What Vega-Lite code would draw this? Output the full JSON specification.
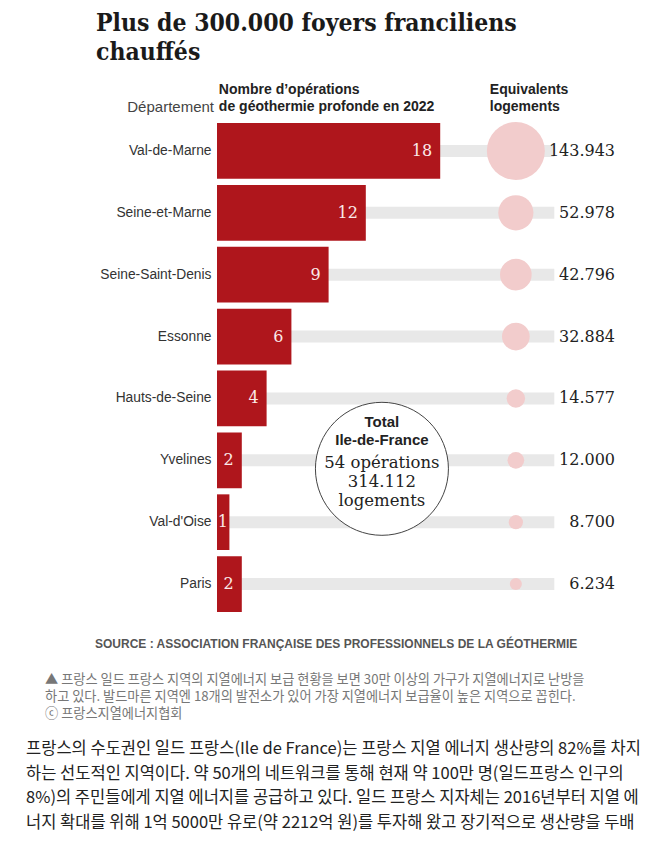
{
  "$schema": "https://vega.github.io/schema/vega-lite/v6.json",
  "width": 436,
  "height": 495,
  "autosize": {"type": "none"},
  "padding": {"left": 217, "top": 120, "right": 0, "bottom": 229},
  "background": "white",
  "config": {
    "view": {"stroke": null},
    "locale": {"number": {"decimal": ",", "thousands": ".", "grouping": [3], "currency": ["", " €"]}}
  },
  "title": {
    "text": ["Plus de 300.000 foyers franciliens", "chauffés"],
    "anchor": "start",
    "frame": "group",
    "dx": -121,
    "offset": 17,
    "font": "'DejaVu Serif Condensed', 'DejaVu Serif'",
    "fontSize": 24.5,
    "fontWeight": "bold",
    "color": "#1a1a1a",
    "lineHeight": 29
  },
  "datasets": {
    "deps": [
      {"dep": "Val-de-Marne", "ops": 18, "logements": 143943},
      {"dep": "Seine-et-Marne", "ops": 12, "logements": 52978},
      {"dep": "Seine-Saint-Denis", "ops": 9, "logements": 42796},
      {"dep": "Essonne", "ops": 6, "logements": 32884},
      {"dep": "Hauts-de-Seine", "ops": 4, "logements": 14577},
      {"dep": "Yvelines", "ops": 2, "logements": 12000},
      {"dep": "Val-d'Oise", "ops": 1, "logements": 8700},
      {"dep": "Paris", "ops": 2, "logements": 6234}
    ],
    "headers": [
      {"h": "Nombre d’opérations\nde géothermie profonde en 2022", "p": 0.15},
      {"h": "Equivalents\nlogements", "p": 22.0}
    ],
    "one": [{"k": 1}]
  },
  "layer": [
    {
      "data": {"name": "deps"},
      "mark": {"type": "bar", "size": 12, "color": "#e8e8e8"},
      "encoding": {
        "y": {"field": "dep", "type": "nominal", "sort": null, "title": null,
              "scale": {"paddingInner": 0.1, "paddingOuter": 0.05},
              "axis": {"domain": false, "ticks": false, "labelPadding": 6, "labelFont": "Liberation Sans", "labelFontSize": 13.8, "labelColor": "#333", "title": null}},
        "x": {"datum": 0, "type": "quantitative", "scale": {"domain": [0, 35.16], "nice": false}, "axis": null},
        "x2": {"datum": 27.2}
      }
    },
    {
      "data": {"name": "deps"},
      "mark": {"type": "bar", "color": "#af161c"},
      "encoding": {
        "y": {"field": "dep", "type": "nominal", "sort": null, "title": null},
        "x": {"field": "ops", "type": "quantitative", "scale": {"domain": [0, 35.16], "nice": false}, "axis": null}
      }
    },
    {
      "data": {"name": "deps"},
      "transform": [{"filter": "datum.ops >= 2"}],
      "mark": {"type": "text", "align": "right", "baseline": "middle", "dx": -8, "font": "DejaVu Serif", "fontSize": 16, "color": "#fbe9e9"},
      "encoding": {
        "y": {"field": "dep", "type": "nominal", "sort": null, "title": null},
        "x": {"field": "ops", "type": "quantitative", "scale": {"domain": [0, 35.16], "nice": false}, "axis": null},
        "text": {"field": "ops", "type": "quantitative"}
      }
    },
    {
      "data": {"name": "deps"},
      "transform": [{"filter": "datum.ops < 2"}],
      "mark": {"type": "text", "align": "center", "baseline": "middle", "dx": -6.5, "font": "DejaVu Serif", "fontSize": 16, "color": "#fbe9e9"},
      "encoding": {
        "y": {"field": "dep", "type": "nominal", "sort": null, "title": null},
        "x": {"field": "ops", "type": "quantitative", "scale": {"domain": [0, 35.16], "nice": false}, "axis": null},
        "text": {"field": "ops", "type": "quantitative"}
      }
    },
    {
      "data": {"name": "deps"},
      "mark": {"type": "circle", "color": "#f2cccc", "opacity": 1},
      "encoding": {
        "y": {"field": "dep", "type": "nominal", "sort": null, "title": null},
        "x": {"datum": 24.1, "type": "quantitative", "scale": {"domain": [0, 35.16], "nice": false}, "axis": null},
        "size": {"field": "logements", "type": "quantitative", "scale": {"domain": [0, 143943], "range": [0, 3364], "zero": true}, "legend": null}
      }
    },
    {
      "data": {"name": "deps"},
      "mark": {"type": "text", "align": "right", "baseline": "middle", "font": "DejaVu Serif", "fontSize": 16, "color": "#222"},
      "encoding": {
        "y": {"field": "dep", "type": "nominal", "sort": null, "title": null},
        "x": {"datum": 32.1, "type": "quantitative", "scale": {"domain": [0, 35.16], "nice": false}, "axis": null},
        "text": {"field": "logements", "type": "quantitative", "format": ",d"}
      }
    },
    {
      "data": {"name": "headers"},
      "mark": {"type": "text", "align": "left", "baseline": "middle", "lineBreak": "\n", "lineHeight": 17.5, "yOffset": -61, "font": "Liberation Sans", "fontSize": 14, "fontWeight": "bold", "color": "#222"},
      "encoding": {
        "y": {"datum": "Val-de-Marne", "type": "nominal", "title": null},
        "x": {"field": "p", "type": "quantitative", "scale": {"domain": [0, 35.16], "nice": false}, "axis": null},
        "text": {"field": "h", "type": "nominal"}
      }
    },
    {
      "data": {"name": "one"},
      "mark": {"type": "text", "align": "right", "baseline": "middle", "dx": -3, "yOffset": -43.6, "font": "Liberation Sans", "fontSize": 15, "color": "#444"},
      "encoding": {
        "y": {"datum": "Val-de-Marne", "type": "nominal", "title": null},
        "x": {"datum": 0, "type": "quantitative", "scale": {"domain": [0, 35.16], "nice": false}, "axis": null},
        "text": {"value": "Département"}
      }
    },
    {
      "data": {"name": "one"},
      "mark": {"type": "point", "shape": "circle", "filled": false, "fill": "white", "stroke": "#444", "strokeWidth": 1, "opacity": 1, "size": 17689, "yOffset": 8.5},
      "encoding": {
        "y": {"datum": "Yvelines", "type": "nominal", "title": null},
        "x": {"datum": 13.3, "type": "quantitative", "scale": {"domain": [0, 35.16], "nice": false}, "axis": null}
      }
    },
    {
      "data": {"name": "one"},
      "mark": {"type": "text", "align": "center", "baseline": "middle", "lineBreak": "\n", "lineHeight": 18, "yOffset": -38.5, "font": "Liberation Sans", "fontSize": 15, "fontWeight": "bold", "color": "#222"},
      "encoding": {
        "y": {"datum": "Yvelines", "type": "nominal", "title": null},
        "x": {"datum": 13.3, "type": "quantitative", "scale": {"domain": [0, 35.16], "nice": false}, "axis": null},
        "text": {"value": "Total\nIle-de-France"}
      }
    },
    {
      "data": {"name": "one"},
      "mark": {"type": "text", "align": "center", "baseline": "middle", "lineBreak": "\n", "lineHeight": 19, "yOffset": 2.5, "font": "DejaVu Serif", "fontSize": 16.5, "color": "#222"},
      "encoding": {
        "y": {"datum": "Yvelines", "type": "nominal", "title": null},
        "x": {"datum": 13.3, "type": "quantitative", "scale": {"domain": [0, 35.16], "nice": false}, "axis": null},
        "text": {"value": "54 opérations\n314.112\nlogements"}
      }
    },
    {
      "data": {"name": "one"},
      "mark": {"type": "text", "align": "left", "baseline": "middle", "yOffset": 59.5, "font": "Liberation Sans", "fontSize": 12, "fontWeight": "bold", "color": "#555"},
      "encoding": {
        "y": {"datum": "Paris", "type": "nominal", "title": null},
        "x": {"datum": -9.84, "type": "quantitative", "scale": {"domain": [0, 35.16], "nice": false}, "axis": null},
        "text": {"value": "SOURCE : ASSOCIATION FRANÇAISE DES PROFESSIONNELS DE LA GÉOTHERMIE"}
      }
    },
    {
      "data": {"name": "one"},
      "mark": {"type": "text", "align": "left", "baseline": "middle", "lineBreak": "\n", "lineHeight": 17, "yOffset": 96, "font": "Noto Sans CJK KR", "fontSize": 13.2, "color": "#777"},
      "encoding": {
        "y": {"datum": "Paris", "type": "nominal", "title": null},
        "x": {"datum": -13.87, "type": "quantitative", "scale": {"domain": [0, 35.16], "nice": false}, "axis": null},
        "text": {"value": "▲ 프랑스 일드 프랑스 지역의 지열에너지 보급 현황을 보면 30만 이상의 가구가 지열에너지로 난방을\n하고 있다. 발드마른 지역엔 18개의 발전소가 있어 가장 지열에너지 보급율이 높은 지역으로 꼽힌다.\nⓒ 프랑스지열에너지협회"}
      }
    },
    {
      "data": {"name": "one"},
      "mark": {"type": "text", "align": "left", "baseline": "middle", "lineBreak": "\n", "lineHeight": 24.5, "yOffset": 165, "font": "Noto Sans CJK KR", "fontSize": 16.5, "color": "#222"},
      "encoding": {
        "y": {"datum": "Paris", "type": "nominal", "title": null},
        "x": {"datum": -15.4, "type": "quantitative", "scale": {"domain": [0, 35.16], "nice": false}, "axis": null},
        "text": {"value": "프랑스의 수도권인 일드 프랑스(Ile de France)는 프랑스 지열 에너지 생산량의 82%를 차지\n하는 선도적인 지역이다. 약 50개의 네트워크를 통해 현재 약 100만 명(일드프랑스 인구의\n8%)의 주민들에게 지열 에너지를 공급하고 있다. 일드 프랑스 지자체는 2016년부터 지열 에\n너지 확대를 위해 1억 5000만 유로(약 2212억 원)를 투자해 왔고 장기적으로 생산량을 두배"}
      }
    }
  ]
}
